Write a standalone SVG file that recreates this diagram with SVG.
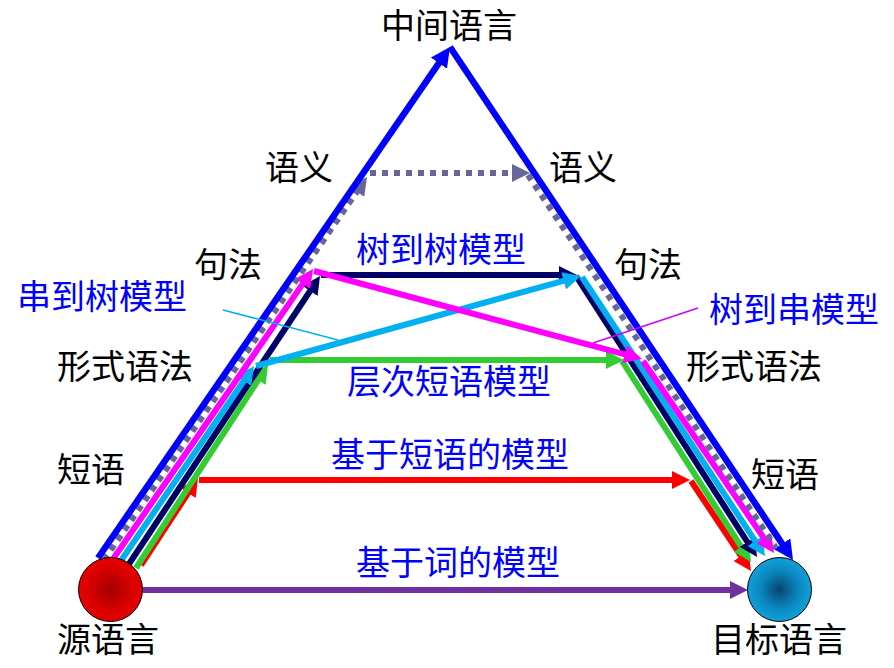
<svg xmlns="http://www.w3.org/2000/svg" width="894" height="668" viewBox="0 0 894 668">
<style>
.t{font-family:"Noto Sans CJK SC","Noto Sans CJK JP",sans-serif;font-size:34px}
.k{fill:#000}
.b{fill:#0000FF}
.c{fill:none;stroke-width:6;stroke-linecap:butt}
.blue{stroke:#0000FF;stroke-width:6.5}
.gray{stroke:#666699;stroke-dasharray:6 6}
.mag{stroke:#FF00FF}
.lb{stroke:#00B0F0}
.navy{stroke:#000066}
.grn{stroke:#33CC33}
.red{stroke:#FF0000}
.pur{stroke:#7030A0}
.lead{fill:none;stroke-width:1.5}
</style>
<defs>
<marker id="mBlue" viewBox="0 0 3 3" refX="2" refY="1.5" markerWidth="3" markerHeight="3" orient="auto" markerUnits="strokeWidth"><path d="M0,0L3,1.5L0,3z" fill="#0000FF"/></marker>
<marker id="mGray" viewBox="0 0 3 3" refX="2" refY="1.5" markerWidth="3" markerHeight="3" orient="auto" markerUnits="strokeWidth"><path d="M0,0L3,1.5L0,3z" fill="#666699"/></marker>
<marker id="mMag" viewBox="0 0 3 3" refX="2" refY="1.5" markerWidth="3" markerHeight="3" orient="auto" markerUnits="strokeWidth"><path d="M0,0L3,1.5L0,3z" fill="#FF00FF"/></marker>
<marker id="mLb" viewBox="0 0 3 3" refX="2" refY="1.5" markerWidth="3" markerHeight="3" orient="auto" markerUnits="strokeWidth"><path d="M0,0L3,1.5L0,3z" fill="#00B0F0"/></marker>
<marker id="mNavy" viewBox="0 0 3 3" refX="2" refY="1.5" markerWidth="3" markerHeight="3" orient="auto" markerUnits="strokeWidth"><path d="M0,0L3,1.5L0,3z" fill="#000066"/></marker>
<marker id="mGrn" viewBox="0 0 3 3" refX="2" refY="1.5" markerWidth="3" markerHeight="3" orient="auto" markerUnits="strokeWidth"><path d="M0,0L3,1.5L0,3z" fill="#33CC33"/></marker>
<marker id="mRed" viewBox="0 0 3 3" refX="2" refY="1.5" markerWidth="3" markerHeight="3" orient="auto" markerUnits="strokeWidth"><path d="M0,0L3,1.5L0,3z" fill="#FF0000"/></marker>
<marker id="mPur" viewBox="0 0 3 3" refX="2" refY="1.5" markerWidth="3" markerHeight="3" orient="auto" markerUnits="strokeWidth"><path d="M0,0L3,1.5L0,3z" fill="#7030A0"/></marker>
<radialGradient id="gSrc" cx="0.5" cy="0.5" r="0.5"><stop offset="0" stop-color="#A00000"/><stop offset="0.6" stop-color="#D40000"/><stop offset="1" stop-color="#E80000"/></radialGradient>
<radialGradient id="gTgt" cx="0.5" cy="0.5" r="0.5"><stop offset="0" stop-color="#0A4470"/><stop offset="0.6" stop-color="#0A88C0"/><stop offset="1" stop-color="#10A0D8"/></radialGradient>
</defs>
<rect width="894" height="668" fill="#fff"/>
<g id="connectors">
<line class="c pur" x1="143" y1="590" x2="742" y2="590" marker-end="url(#mPur)"/>
<line class="c red" x1="141" y1="565" x2="194.7" y2="483" marker-end="url(#mRed)"/>
<line class="c red" x1="199" y1="480" x2="684" y2="480" marker-end="url(#mRed)"/>
<line class="c red" x1="691" y1="481" x2="747.7" y2="566" marker-end="url(#mRed)"/>
<line class="c grn" x1="136" y1="568" x2="264.7" y2="370" marker-end="url(#mGrn)"/>
<line class="c grn" x1="270" y1="360" x2="618" y2="360" marker-end="url(#mGrn)"/>
<line class="c grn" x1="622" y1="361" x2="747.8" y2="557" marker-end="url(#mGrn)"/>
<line class="c navy" x1="127" y1="567" x2="316.7" y2="281" marker-end="url(#mNavy)"/>
<line class="c navy" x1="321" y1="275" x2="571" y2="275" marker-end="url(#mNavy)"/>
<line class="c navy" x1="576" y1="276" x2="753.8" y2="552" marker-end="url(#mNavy)"/>
<line class="c lb" x1="118" y1="565" x2="250.6" y2="371" marker-end="url(#mLb)"/>
<line class="c lb" x1="256" y1="366" x2="575.2" y2="277.6" marker-end="url(#mLb)"/>
<line class="c lb" x1="582" y1="277" x2="761.7" y2="551" marker-end="url(#mLb)"/>
<line class="c mag" x1="111" y1="562" x2="309.6" y2="273.9" marker-end="url(#mMag)"/>
<line class="c mag" x1="314" y1="271" x2="636.2" y2="357.4" marker-end="url(#mMag)"/>
<line class="c mag" x1="643" y1="361" x2="770.6" y2="548" marker-end="url(#mMag)"/>
<line class="c gray" x1="104" y1="560" x2="363.6" y2="181.9" marker-end="url(#mGray)"/>
<line class="c gray" x1="370" y1="173" x2="524" y2="173" marker-end="url(#mGray)"/>
<line class="c gray" x1="528" y1="175" x2="776" y2="548"/>
<line class="c blue" x1="98" y1="558" x2="446.3" y2="52.4" marker-end="url(#mBlue)"/>
<line class="c blue" x1="450" y1="47" x2="789.4" y2="554.6" marker-end="url(#mBlue)"/>
<line class="lead" stroke="#00B0F0" x1="223" y1="310" x2="338" y2="340"/>
<line class="lead" stroke="#CC00FF" x1="698" y1="308" x2="593" y2="343"/>
</g>
<g id="node-source">
<circle cx="110.5" cy="589.5" r="32" fill="url(#gSrc)" stroke="#000" stroke-width="1"/>
<text class="t k" x="57" y="652">源语言</text>
</g>
<g id="node-target">
<circle cx="779.5" cy="589.5" r="32" fill="url(#gTgt)" stroke="#000" stroke-width="1"/>
<text class="t k" x="711" y="652">目标语言</text>
</g>
<g id="node-interlingua"><text class="t k" x="381" y="38">中间语言</text></g>
<g id="level-semantics"><text class="t k" x="265" y="180">语义</text><text class="t k" x="549" y="180">语义</text></g>
<g id="level-syntax"><text class="t k" x="194" y="277">句法</text><text class="t k" x="614" y="277">句法</text></g>
<g id="level-grammar"><text class="t k" x="57" y="379">形式语法</text><text class="t k" x="686" y="379">形式语法</text></g>
<g id="level-phrase"><text class="t k" x="57" y="482">短语</text><text class="t k" x="751" y="487">短语</text></g>
<g id="label-s2t"><text class="t b" x="17" y="309">串到树模型</text></g>
<g id="label-t2t"><text class="t b" x="356" y="262">树到树模型</text></g>
<g id="label-t2s"><text class="t b" x="709" y="322">树到串模型</text></g>
<g id="label-hiero"><text class="t b" x="347" y="394">层次短语模型</text></g>
<g id="label-pb"><text class="t b" x="331" y="467">基于短语的模型</text></g>
<g id="label-wb"><text class="t b" x="356" y="575">基于词的模型</text></g>
</svg>
